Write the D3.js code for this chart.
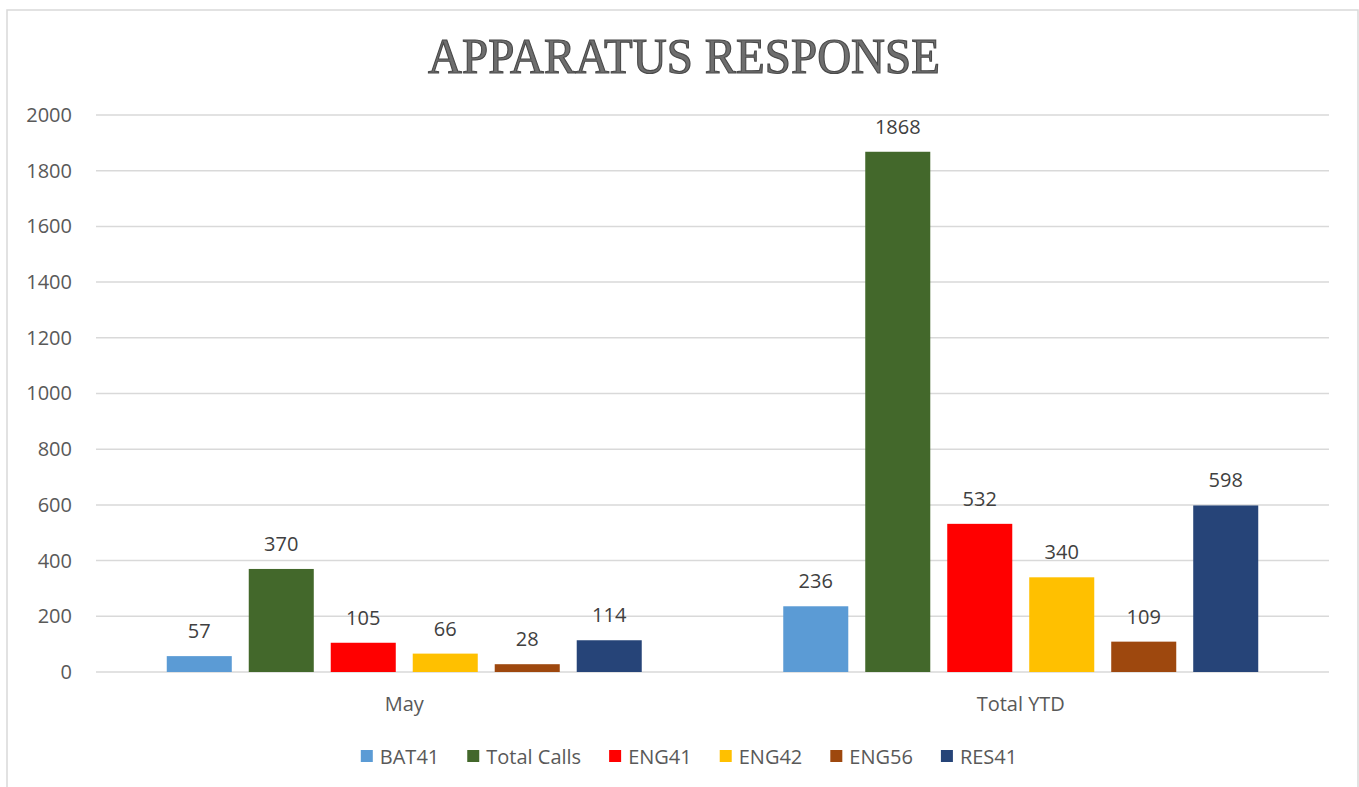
<!DOCTYPE html>
<html><head><meta charset="utf-8">
<script src="https://cdn.jsdelivr.net/npm/d3@7"></script>
<style>body{margin:0;background:#fff}svg{display:block}</style>
</head><body>
<svg id="c" width="1359" height="787"></svg>
<script>
const categories = ["May", "Total YTD"];
const seriesNames = ["BAT41", "Total Calls", "ENG41", "ENG42", "ENG56", "RES41"];
const seriesColors = ["#5B9BD5", "#43682B", "#FF0000", "#FFC000", "#9E480E", "#264478"];
const BAT41 = [57, 236];
const TotalCalls = [370, 1868];
const ENG41 = [105, 532];
const ENG42 = [66, 340];
const ENG56 = [28, 109];
const RES41 = [114, 598];
const yTicks = [0, 200, 400, 600, 800, 1000, 1200, 1400, 1600, 1800, 2000];
const title = "APPARATUS RESPONSE";

(function () {
const seriesValues = [BAT41, TotalCalls, ENG41, ENG42, ENG56, RES41];
const svg = d3.select("#c");
const font = "'Open Sans', 'Liberation Sans', sans-serif";
const txt = "#595959";

// chart border
svg.append("rect").attr("x", 7).attr("y", 10).attr("width", 1351).attr("height", 800)
  .attr("fill", "none").attr("stroke", "#d9d9d9").attr("stroke-width", 1.5);

// title
svg.append("text").attr("x", 684).attr("y", 73).attr("text-anchor", "middle")
  .attr("font-family", "'Liberation Serif', 'DejaVu Serif', serif").attr("font-size", 50)
  .attr("textLength", 512).attr("lengthAdjust", "spacingAndGlyphs")
  .attr("fill", "#6e6e6e").attr("stroke", "#4a4a4a").attr("stroke-width", 1.2)
  .text(title);

const pLeft = 96, pRight = 1329, pTop = 115, pBottom = 672;
const y = d3.scaleLinear().domain([0, 2000]).range([pBottom, pTop]);
const x0 = d3.scaleBand().domain(categories).range([pLeft, pRight]).padding(0);
const x1 = d3.scaleBand().domain(seriesNames).range([0, x0.bandwidth()])
  .paddingInner(0.207).paddingOuter(0.863);

// gridlines
svg.append("g").selectAll("line").data(yTicks).join("line")
  .attr("x1", pLeft).attr("x2", pRight)
  .attr("y1", d => y(d)).attr("y2", d => y(d))
  .attr("stroke", "#d9d9d9").attr("stroke-width", 1.5);

// y axis labels
const yAxis = d3.axisLeft(y).tickValues(yTicks).tickSize(0).tickPadding(0).tickFormat(d3.format("d"));
const ga = svg.append("g").attr("transform", `translate(72,0)`).call(yAxis);
ga.select(".domain").remove();
ga.selectAll("text").attr("font-family", font).attr("font-size", 20).attr("fill", txt);

// x axis labels
const xAxis = d3.axisBottom(x0).tickSize(0).tickPadding(0);
const gx = svg.append("g").attr("transform", `translate(0,${pBottom + 25})`).call(xAxis);
gx.select(".domain").remove();
gx.selectAll("text").attr("font-family", font).attr("font-size", 20).attr("fill", txt);

// bars
const data = [];
categories.forEach((c, ci) => seriesNames.forEach((s, si) =>
  data.push({c, s, v: seriesValues[si][ci], color: seriesColors[si]})));

svg.append("g").selectAll("rect").data(data).join("rect")
  .attr("x", d => x0(d.c) + x1(d.s)).attr("width", x1.bandwidth())
  .attr("y", d => y(d.v)).attr("height", d => y(0) - y(d.v))
  .attr("fill", d => d.color);

svg.append("g").selectAll("text").data(data).join("text")
  .attr("x", d => x0(d.c) + x1(d.s) + x1.bandwidth() / 2)
  .attr("y", d => y(d.v) - 18)
  .attr("text-anchor", "middle").attr("font-family", font).attr("font-size", 20)
  .attr("fill", "#404040").text(d => d.v);

// legend (laid out from measured text widths, centred)
const lgRoot = svg.append("g");
const lg = lgRoot.selectAll("g").data(seriesNames).join("g");
lg.append("rect").attr("y", -7).attr("width", 12).attr("height", 12).attr("fill", (d, i) => seriesColors[i]);
lg.append("text").attr("x", 19).attr("y", 0).attr("dy", "0.35em").attr("font-family", font).attr("font-size", 20)
  .attr("fill", txt).text(d => d);
let cx = 0;
const offs = [];
const gap = 28;
lg.each(function () {
  offs.push(cx);
  const w = d3.select(this).select("text").node().getComputedTextLength();
  cx += 19 + w + gap;
});
const totalW = cx - gap;
lg.attr("transform", (d, i) => `translate(${offs[i]},0)`);
lgRoot.attr("transform", `translate(${689 - totalW / 2},757)`);
})();
</script>
</body></html>
